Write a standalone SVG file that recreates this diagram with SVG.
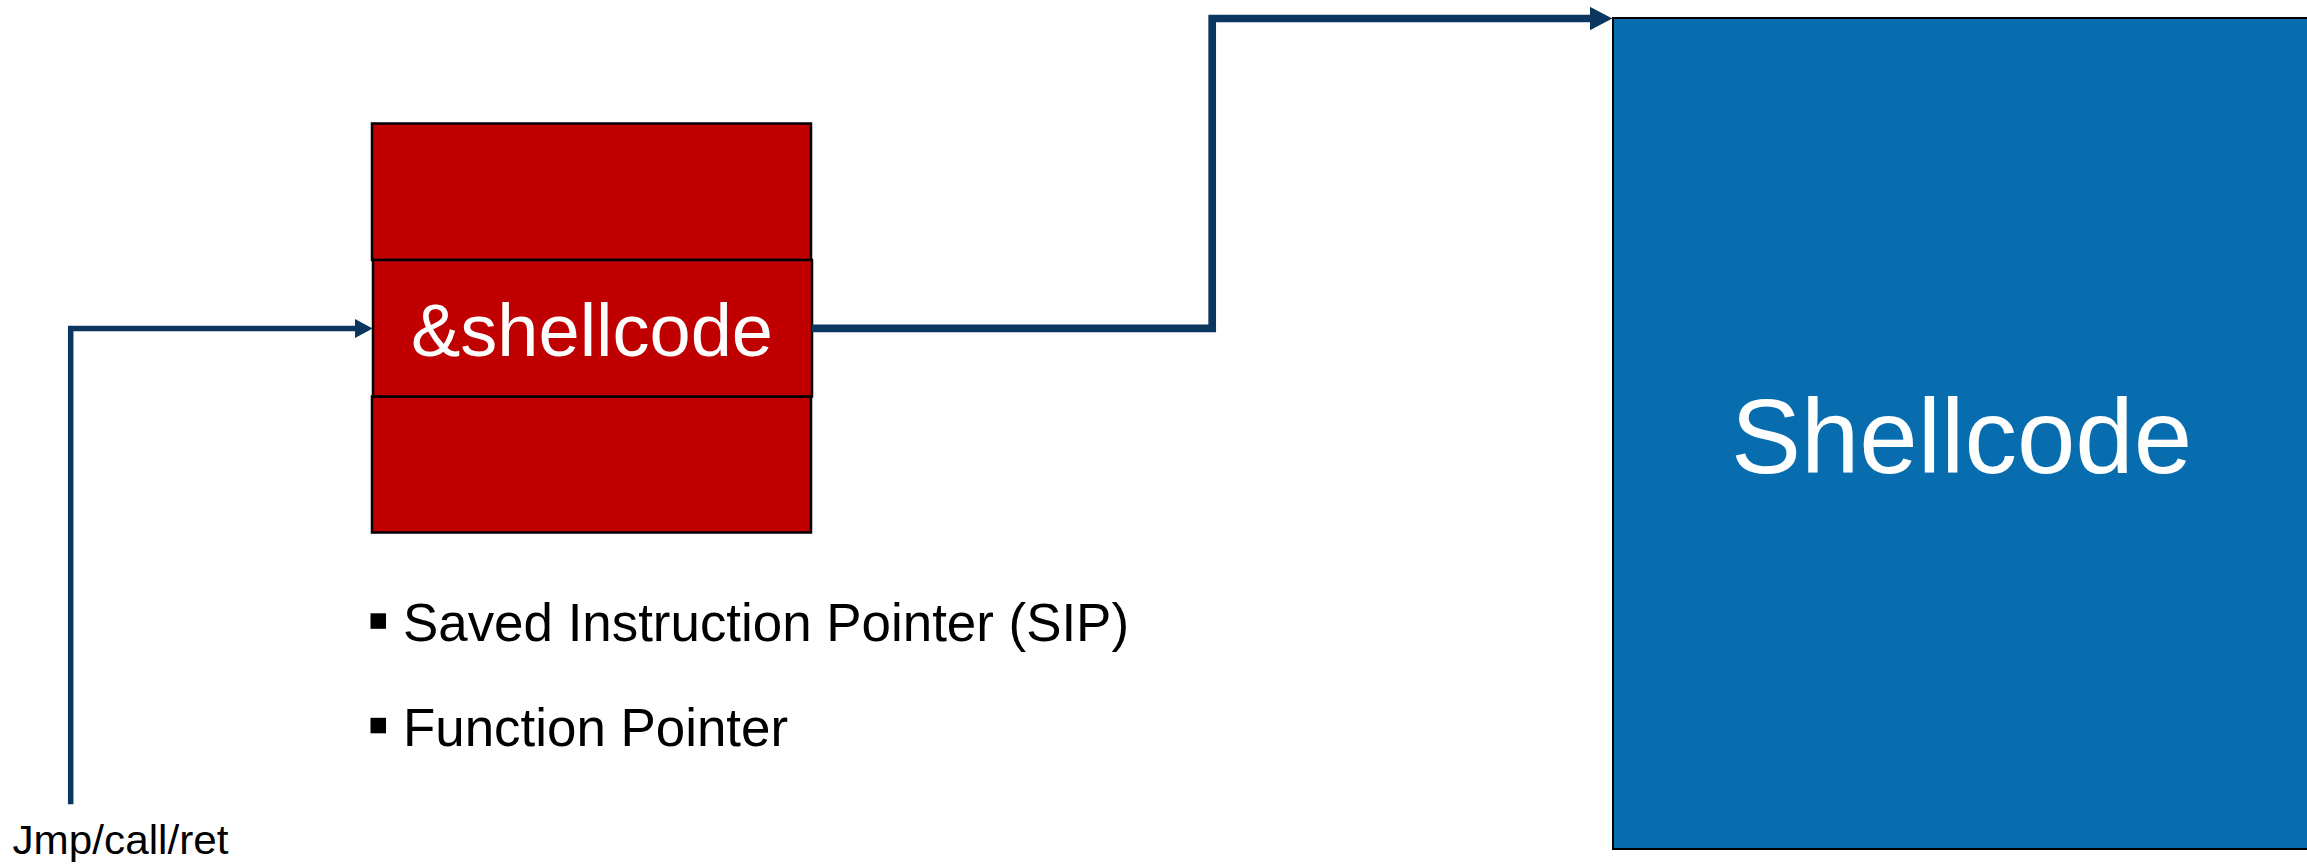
<svg xmlns="http://www.w3.org/2000/svg" width="2307" height="866" viewBox="0 0 2307 866">
  <style>
    .red { fill: #C00000; stroke: #000000; stroke-width: 2.5; }
    .blue { fill: #086DAF; stroke: #000000; stroke-width: 2; }
    .conn { fill: none; stroke: #0B365F; stroke-linejoin: miter; stroke-linecap: butt; }
    .txt { font-family: "Liberation Sans", Arial, sans-serif; }
    .white { fill: #FFFFFF; }
    .black { fill: #000000; }
  </style>
  <defs>
    <marker id="headS" markerUnits="userSpaceOnUse" markerWidth="18" markerHeight="19" refX="0" refY="9.4" orient="auto">
      <path d="M0,0 L17.7,9.4 L0,18.8 Z" fill="#0B365F"/>
    </marker>
    <marker id="headL" markerUnits="userSpaceOnUse" markerWidth="23" markerHeight="24" refX="0" refY="11.7" orient="auto">
      <path d="M0,0 L22.3,11.7 L0,23.4 Z" fill="#0B365F"/>
    </marker>
  </defs>
  <rect width="2307" height="866" fill="#FFFFFF"/>

  <g id="stack-top">
    <rect class="red" x="372" y="123.5" width="439" height="136.5"/>
  </g>
  <g id="stack-bottom">
    <rect class="red" x="372" y="396.5" width="439" height="136"/>
  </g>
  <g id="stack-shellcode-addr">
    <rect class="red" x="373" y="260" width="439" height="136.5"/>
    <text class="txt white" x="592" y="356" font-size="74" text-anchor="middle">&amp;shellcode</text>
  </g>

  <g id="shellcode">
    <rect class="blue" x="1613" y="18" width="700" height="831"/>
    <text class="txt white" x="1961.5" y="473" font-size="105" text-anchor="middle">Shellcode</text>
  </g>

  <g id="label-jmp">
    <text class="txt black" x="12.5" y="854" font-size="41.5" textLength="216" lengthAdjust="spacingAndGlyphs">Jmp/call/ret</text>
  </g>

  <g id="bullets">
    <rect class="black" x="370.5" y="613.3" width="15.5" height="15.5"/>
    <text class="txt black" x="403" y="641" font-size="54" textLength="726" lengthAdjust="spacingAndGlyphs">Saved Instruction Pointer (SIP)</text>
    <rect class="black" x="370.5" y="717.8" width="15.5" height="15.5"/>
    <text class="txt black" x="403" y="745.5" font-size="54" textLength="385" lengthAdjust="spacingAndGlyphs">Function Pointer</text>
  </g>

  <g id="connectors">
    <path class="conn" stroke-width="5.5" d="M70.7,804.3 V328.5 H355" marker-end="url(#headS)"/>
    <path class="conn" stroke-width="7.7" d="M812,328.3 H1212.2 V18.5 H1590" marker-end="url(#headL)"/>
  </g>
</svg>
